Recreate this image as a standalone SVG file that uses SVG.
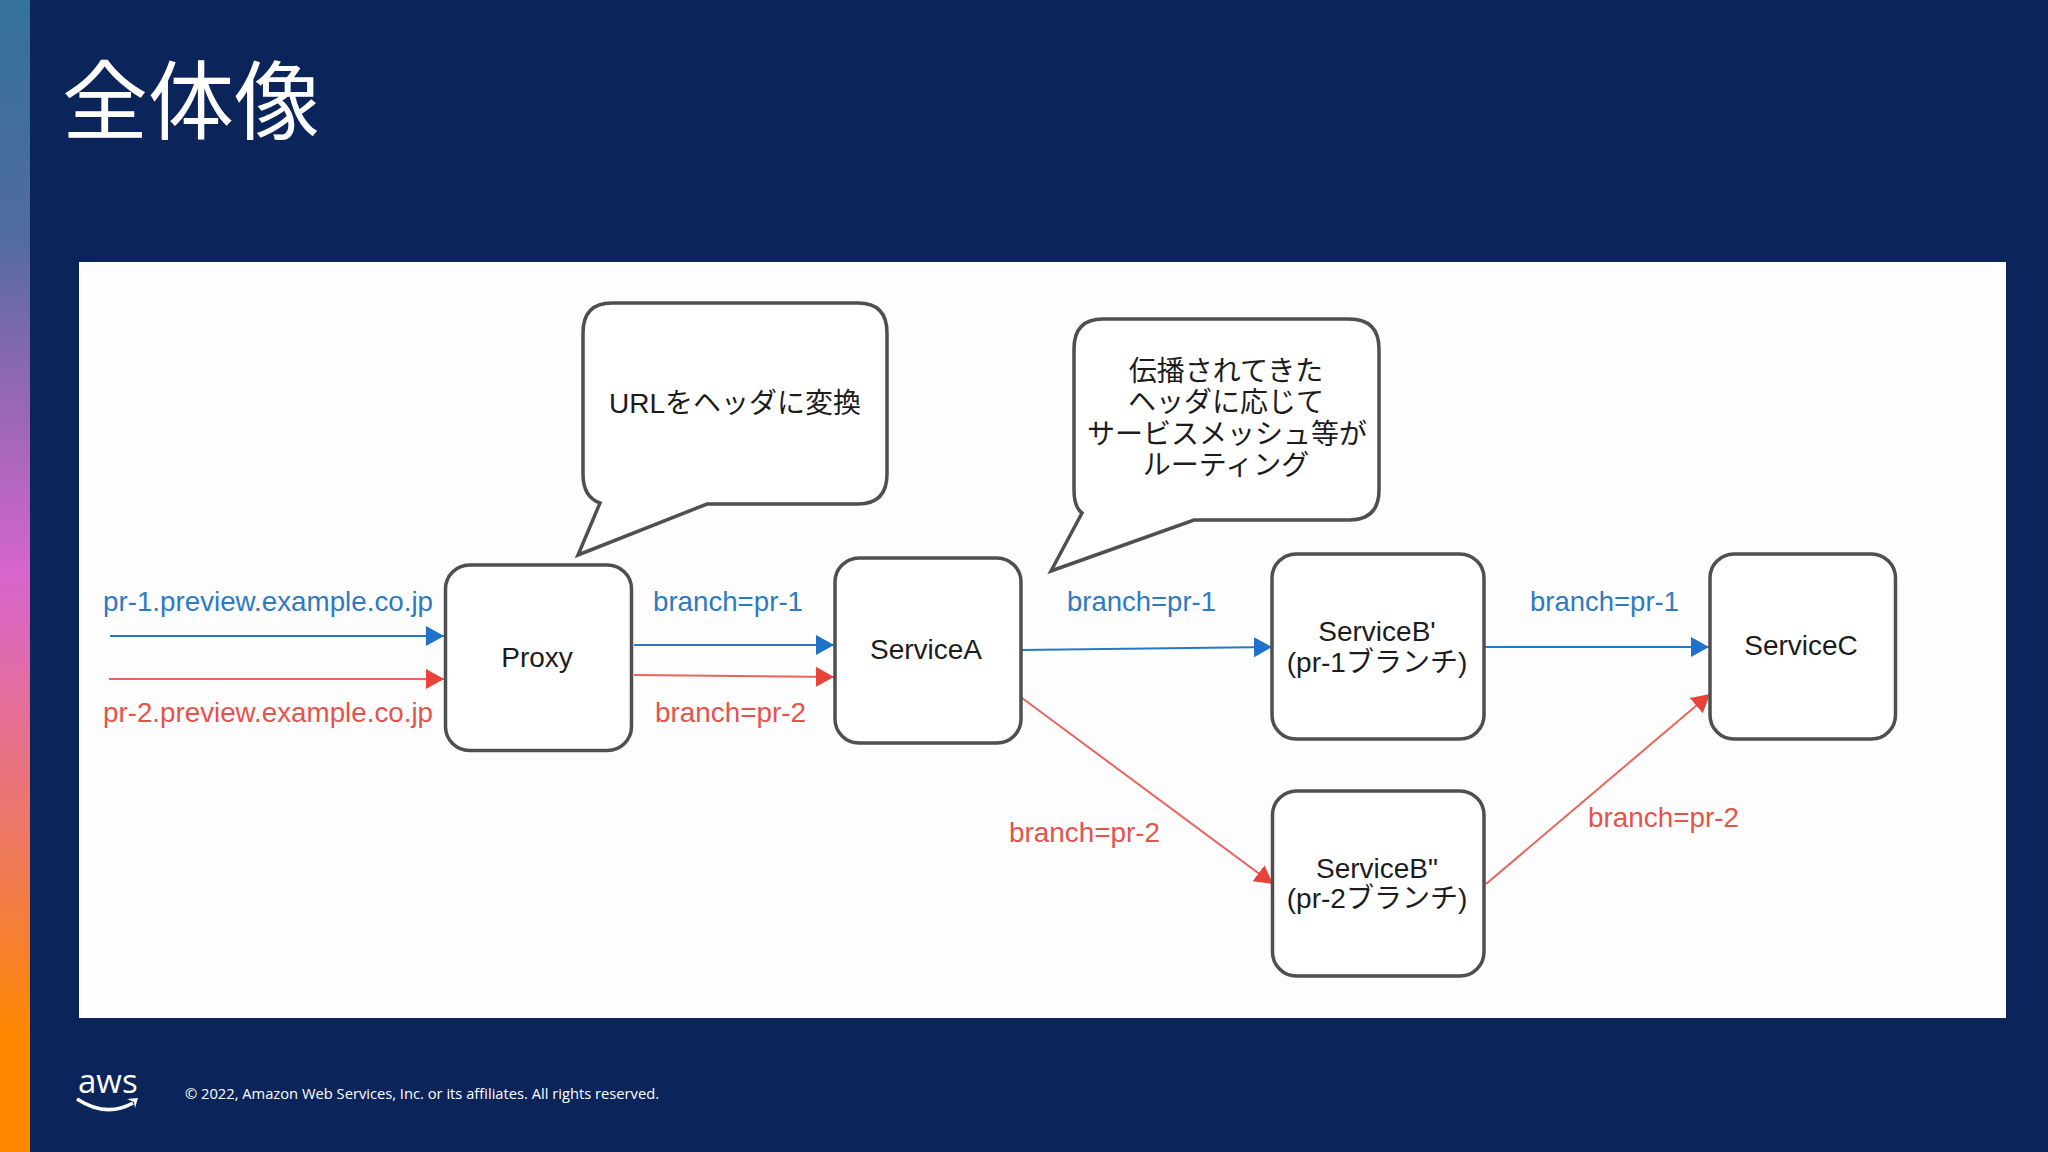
<svg xmlns="http://www.w3.org/2000/svg" width="2048" height="1152" viewBox="0 0 2048 1152">
<defs>
<linearGradient id="bar" x1="0" y1="0" x2="0" y2="1">
<stop offset="0" stop-color="#33729a"/><stop offset="0.2" stop-color="#4f6c9e"/><stop offset="0.33" stop-color="#8f68b0"/><stop offset="0.5" stop-color="#d765cd"/><stop offset="0.62" stop-color="#e56f95"/><stop offset="0.76" stop-color="#f07a50"/><stop offset="0.9" stop-color="#ff8800"/><stop offset="1" stop-color="#ff8800"/>
</linearGradient>
<marker id="ab" markerUnits="userSpaceOnUse" markerWidth="19" markerHeight="21" refX="18" refY="10" orient="auto"><path d="M0 0L18 10L0 20Z" fill="#1f72c8"/></marker>
<marker id="ar" markerUnits="userSpaceOnUse" markerWidth="19" markerHeight="21" refX="18" refY="10" orient="auto"><path d="M0 0L18 10L0 20Z" fill="#e8433a"/></marker>
</defs>
<style>
text{font-family:"Liberation Sans","Noto Sans CJK JP",sans-serif;font-size:28px;fill:#1c1c1c}
.box{fill:#fff;stroke:#4f4f4f;stroke-width:3.5}
.b{fill:#2f79c3}
.r{fill:#e5534b}
.lb{stroke:#2478c4;stroke-width:2;fill:none;marker-end:url(#ab)}
.lr{stroke:#e8655d;stroke-width:2;fill:none;marker-end:url(#ar)}
.c{text-anchor:middle}
</style>
<rect width="2048" height="1152" fill="#0b255b"/>
<rect width="30" height="1152" fill="url(#bar)"/>
<text x="62" y="133" style="font-family:'Noto Sans CJK JP',sans-serif;font-size:86px;fill:#fff;font-weight:400">全体像</text>
<rect x="79" y="262" width="1927" height="756" fill="#fdfdfd"/>
<g id="connectors">
<path class="lb" d="M110 636H444"/>
<path class="lr" d="M109 679H444"/>
<path class="lb" d="M634 645H834"/>
<path class="lr" d="M634 675L834 677"/>
<path class="lb" d="M1022 650L1272 647"/>
<path class="lb" d="M1485 647H1709"/>
<path class="lr" d="M1022 698L1273 884"/>
<path class="lr" d="M1486 884L1710 694"/>
</g>
<g id="edge-labels">
<text class="b" x="103" y="611" textLength="330" lengthAdjust="spacingAndGlyphs">pr-1.preview.example.co.jp</text>
<text class="r" x="103" y="722" textLength="330" lengthAdjust="spacingAndGlyphs">pr-2.preview.example.co.jp</text>
<text class="b" x="653" y="611" textLength="150" lengthAdjust="spacingAndGlyphs">branch=pr-1</text>
<text class="r" x="655" y="722" textLength="151" lengthAdjust="spacingAndGlyphs">branch=pr-2</text>
<text class="b" x="1067" y="611" textLength="149" lengthAdjust="spacingAndGlyphs">branch=pr-1</text>
<text class="r" x="1009" y="842" textLength="151" lengthAdjust="spacingAndGlyphs">branch=pr-2</text>
<text class="b" x="1530" y="611" textLength="149" lengthAdjust="spacingAndGlyphs">branch=pr-1</text>
<text class="r" x="1588" y="827" textLength="151" lengthAdjust="spacingAndGlyphs">branch=pr-2</text>
</g>
<g id="callout-url">
<path class="box" d="M612 303H858Q887 303 887 333V474Q887 504 858 504H707L578 555L600 503Q583 497 583 474V333Q583 303 612 303Z"/>
<text class="c" x="735" y="413">URLをヘッダに変換</text>
</g>
<g id="callout-routing">
<path class="box" d="M1103 319H1349Q1379 319 1379 349V490Q1379 520 1349 520H1194L1051 571L1082 513Q1074 507 1074 490V349Q1074 319 1103 319Z"/>
<text class="c" x="1226" y="381">伝播されてきた</text>
<text class="c" x="1226" y="412">ヘッダに応じて</text>
<text class="c" x="1227" y="444">サービスメッシュ等が</text>
<text class="c" x="1226" y="475">ルーティング</text>
</g>
<g id="proxy">
<rect class="box" x="445.500" y="565" width="186" height="185.500" rx="24"/>
<text class="c" x="537" y="667">Proxy</text>
</g>
<g id="service-a">
<rect class="box" x="835" y="558" width="186" height="185" rx="24"/>
<text class="c" x="926" y="659">ServiceA</text>
</g>
<g id="service-b1">
<rect class="box" x="1272" y="554" width="212" height="185" rx="24"/>
<text class="c" x="1377" y="641">ServiceB'</text>
<text class="c" x="1377" y="672">(pr-1ブランチ)</text>
</g>
<g id="service-b2">
<rect class="box" x="1272.500" y="791" width="211.500" height="185" rx="24"/>
<text class="c" x="1377" y="878">ServiceB"</text>
<text class="c" x="1377" y="908">(pr-2ブランチ)</text>
</g>
<g id="service-c">
<rect class="box" x="1710" y="554" width="185.500" height="185" rx="24"/>
<text class="c" x="1801" y="655">ServiceC</text>
</g>
<g id="footer">
<text x="78" y="1093" style="font-family:'Open Sans',sans-serif;font-size:33px;fill:#fff">aws</text>
<path d="M77 1099Q106 1118 133 1103" fill="none" stroke="#fff" stroke-width="3.500"/>
<path d="M127 1099L138 1098L135 1108L134 1102Z" fill="#fff"/>
<text x="185" y="1099" textLength="474" lengthAdjust="spacingAndGlyphs" style="font-family:'Open Sans',sans-serif;font-size:15px;fill:#fff">© 2022, Amazon Web Services, Inc. or its affiliates. All rights reserved.</text>
</g>
</svg>
